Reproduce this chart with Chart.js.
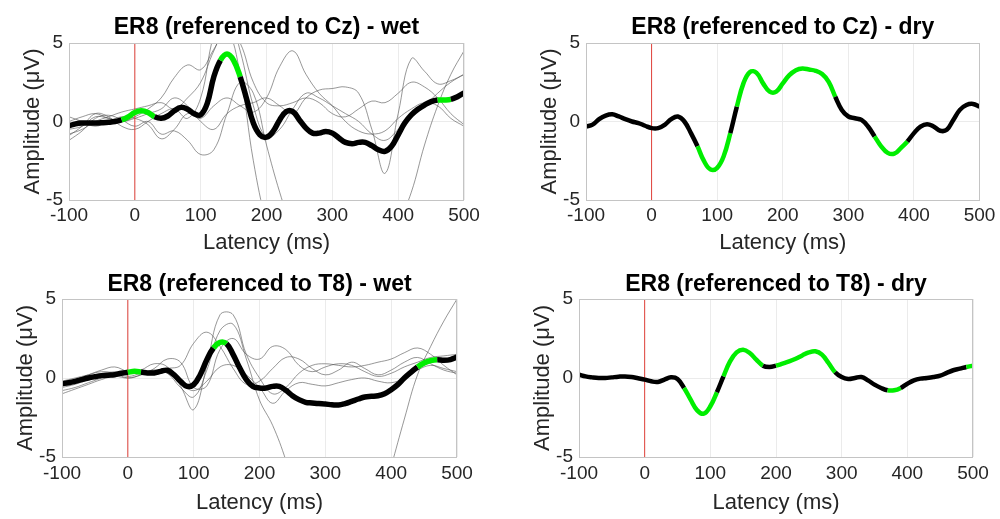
<!DOCTYPE html>
<html>
<head>
<meta charset="utf-8">
<script src="https://cdn.jsdelivr.net/npm/chart.js@4.4.1/dist/chart.umd.min.js"></script>
<style>
  html, body { margin: 0; padding: 0; background: #fff; }
  #fig { position: relative; width: 1000px; height: 519px; overflow: hidden; }
  .panel { position: absolute; }
</style>
</head>
<body>
<div id="fig">
  <div class="panel" style="left:0;top:0;width:500px;height:260px"><canvas id="czWet"></canvas></div>
  <div class="panel" style="left:500px;top:0;width:500px;height:260px"><canvas id="czDry"></canvas></div>
  <div class="panel" style="left:0;top:260px;width:500px;height:259px"><canvas id="t8Wet"></canvas></div>
  <div class="panel" style="left:500px;top:260px;width:500px;height:259px"><canvas id="t8Dry"></canvas></div>
</div>
<script>
// latency axis (ms)
const latency = [-100, -90, -80, -70, -60, -50, -40, -30, -20, -10, 0, 10, 20, 30, 40, 50, 60, 70, 80, 90,
  100, 110, 120, 130, 140, 150, 160, 170, 180, 190, 200, 210, 220, 230, 240, 250, 260, 270, 280, 290,
  300, 310, 320, 330, 340, 350, 360, 370, 380, 390, 400, 410, 420, 430, 440, 450, 460, 470, 480, 490, 500]
const latencyTrials = [-100, -80, -60, -40, -20, 0, 20, 40, 60, 80, 100, 120, 140, 160, 180, 200,
  220, 240, 260, 280, 300, 320, 340, 360, 380, 400, 420, 440, 460, 480, 500]
const xTicks = [-100, 0, 100, 200, 300, 400, 500]
const yTicks = [-5, 0, 5]

// grand averages (uV)
const czWetMean = [-0.27, -0.15, -0.1, -0.1, -0.1, -0.08, -0.05, 0.0, 0.1, 0.3, 0.57, 0.68, 0.57, 0.3, 0.2, 0.35, 0.68, 0.9, 0.78, 0.5,
  0.42, 1.15, 2.85, 3.9, 4.3, 3.9, 2.85, 1.4, -0.1, -0.85, -1.0, -0.63, 0.1, 0.63, 0.63, 0.1, -0.42, -0.74, -0.74, -0.63,
  -0.74, -1.05, -1.33, -1.41, -1.33, -1.33, -1.54, -1.8, -1.9, -1.58, -0.85, -0.1, 0.42, 0.78, 1.05, 1.27, 1.37, 1.37, 1.41, 1.58, 1.83]
const czDryMean = [-0.32, -0.2, 0.15, 0.38, 0.46, 0.32, 0.15, 0.0, -0.1, -0.27, -0.42, -0.42, -0.21, 0.15, 0.32, 0.0, -0.74, -1.58, -2.53, -3.06,
  -2.95, -2.2, -0.74, 0.95, 2.43, 3.16, 3.1, 2.43, 1.9, 1.9, 2.43, 2.95, 3.27, 3.38, 3.31, 3.23, 3.02, 2.53, 1.58, 0.74,
  0.32, 0.21, 0.1, -0.32, -0.95, -1.58, -2.0, -2.05, -1.69, -1.27, -0.74, -0.32, -0.17, -0.32, -0.59, -0.53, 0.1, 0.74, 1.05, 1.12, 0.95]
const t8WetMean = [-0.36, -0.3, -0.21, -0.1, 0.0, 0.08, 0.15, 0.18, 0.21, 0.3, 0.36, 0.42, 0.38, 0.32, 0.32, 0.42, 0.49, 0.21, -0.21, -0.53,
  -0.42, 0.21, 1.16, 1.9, 2.26, 2.17, 1.48, 0.63, -0.1, -0.53, -0.63, -0.63, -0.53, -0.53, -0.78, -1.12, -1.37, -1.54, -1.58, -1.62,
  -1.65, -1.69, -1.71, -1.62, -1.48, -1.33, -1.2, -1.16, -1.12, -0.99, -0.74, -0.42, 0.0, 0.36, 0.7, 0.95, 1.1, 1.16, 1.12, 1.16, 1.33]
const t8DryMean = [0.21, 0.1, 0.04, 0.0, 0.0, 0.04, 0.08, 0.1, 0.06, -0.02, -0.1, -0.21, -0.25, -0.1, 0.04, -0.06, -0.63, -1.37, -2.05, -2.26,
  -1.79, -0.9, 0.1, 1.05, 1.62, 1.79, 1.58, 1.16, 0.78, 0.7, 0.78, 0.91, 1.05, 1.22, 1.43, 1.62, 1.69, 1.48, 0.95, 0.36,
  0.06, -0.06, 0.0, 0.06, -0.15, -0.42, -0.63, -0.78, -0.78, -0.63, -0.36, -0.15, -0.04, 0.0, 0.06, 0.15, 0.32, 0.49, 0.59, 0.7, 0.78]

// significant latency windows (ms)
const czWetSig = [[-15, 25], [135, 155], [460, 477]]
const czDrySig = [[66, 118], [129, 284], [345, 391]]
const t8WetSig = [[0, 15], [133, 151], [440, 469]]
const t8DrySig = [[60, 112], [125, 180], [201, 287], [368, 387], [495, 500]]

// single-subject traces, wet electrodes (uV)
const czWetTrials = [
  [-0.5, -0.3, 0.3, 0.2, 0.0, 0.3, 0.8, 1.5, 2.8, 3.6, 3.3, 4.6, 5.8, 3.0, -2.5, -6.5, -9, -10, -10, -10, -10, -10, -10, -9, -8, -6.5, -4.5, -1.5, 1.0, 3.0, 4.5],
  [0.3, 0.0, -0.3, 0.0, 0.3, 0.2, -0.2, -1.1, -0.5, 0.5, 0.2, 1.0, 1.5, 1.0, 0.6, 1.5, 3.5, 4.5, 3.0, 1.8, 1.0, 0.0, -0.6, -0.8, -0.6, 0.2, 0.8, 1.2, 1.0, 0.2, -0.3],
  [0.0, 0.3, 0.5, 0.2, 0.0, 0.2, 0.5, 0.8, 1.5, 1.0, 0.0, -0.5, 0.5, 1.0, 1.2, 1.5, 1.0, 0.5, 1.5, 2.0, 2.1, 2.2, 1.8, -0.5, -3.3, 0.5, 4.0, 3.2, 2.4, 2.6, 3.0],
  [-1.2, -0.6, 0.2, 0.4, 0.1, -0.3, 0.0, -0.8, -0.6, -1.2, -2.1, -1.8, 0.5, 2.5, 1.8, -1.5, -4.5, -7, -9, -10, -10, -10, -10, -10, -10, -10, -10, -10, -10, -10, -10],
  [-0.8, -0.5, 0.0, 0.3, 0.6, 0.8, 1.0, 1.2, 0.8, 1.5, 2.5, 4.5, 6.0, 5.0, 2.5, 1.2, 1.0, 1.2, 1.5, 1.2, 0.5, 0.3, 0.8, 1.3, 1.2, 1.8, 2.5, 2.2, 1.5, 0.5, -0.2],
  [-0.9, -0.3, 0.5, 0.3, -0.3, -0.5, 0.0, 0.5, 0.8, 0.2, 1.5, 5.5, 7.0, 4.5, 1.0, -1.0, -0.5, 0.8, 1.8, 1.5, 1.0, 0.5, 0.0, -0.8, -1.2, -0.5, 0.3, 1.0, 1.8, 2.5, 3.0]
]
const t8WetTrials = [
  [-0.6, -0.4, -0.1, 0.2, 0.4, 0.3, 0.5, 0.9, 0.7, -0.5, -2.0, 0.8, 4.0, 4.0, 1.5, 0.0, -1.0, -0.6, 0.3, 0.8, 0.9, 0.8, 0.7, 0.8, 1.0, 1.2, 1.6, 1.9, 1.5, 0.8, 0.2],
  [-0.8, -0.6, -0.3, 0.0, 0.3, 0.1, 0.3, 0.5, 0.3, -0.6, -1.2, 0.5, 3.0, 3.4, 1.2, -1.4, -3.0, -5.2, -8, -9, -10, -10, -10, -10, -8.5, -5.6, -2.6, 0.2, 2.0, 3.6, 5.0],
  [-0.3, -0.1, 0.2, 0.5, 0.7, 0.4, 0.3, 0.4, 0.6, 0.8, 2.2, 2.9, 2.0, 0.6, -0.4, -0.2, 0.6, 1.3, 1.2, 0.6, 0.2, 0.5, 1.0, 0.6, 0.2, 0.5, 1.0, 1.3, 0.9, 0.5, 0.3],
  [-1.0, -0.7, -0.4, -0.1, 0.1, 0.0, 0.2, 0.5, 0.3, -0.3, -0.8, -0.2, 0.7, 0.8, 0.2, -0.6, -1.6, -0.8, -0.3, -0.4, -0.5, -0.3, -0.1, 0.0, -0.2, -0.3, 0.0, 0.5, 0.8, 0.6, 0.4],
  [-0.2, 0.0, 0.2, 0.4, 0.3, 0.0, 0.2, 0.6, 1.2, 1.0, -0.6, -0.5, 1.8, 2.5, 1.5, 1.2, 2.0, 1.8, 0.8, 0.4, 0.7, 0.9, 0.8, 0.4, 0.1, 0.3, 0.7, 1.0, 1.3, 1.4, 1.5]
]

const GREEN = "#00ee00"
const BLACK = "#000000"
const ONSET = "#e0403a"
const TRIAL = "rgba(80,80,80,0.75)"

Chart.defaults.font.family = "'Liberation Sans', Arial, sans-serif"
Chart.defaults.color = "#262626"

const boxPlugin = {
  id: "box",
  afterDatasetsDraw(chart) {
    const { ctx, chartArea: a } = chart
    ctx.save()
    ctx.strokeStyle = "#c4c4c4"
    ctx.lineWidth = 1
    ctx.strokeRect(Math.round(a.left) + 0.5, Math.round(a.top) + 0.5, Math.round(a.right - a.left) - 1, Math.round(a.bottom - a.top))
    ctx.restore()
  }
}

const toPoints = (xs, ys) => xs.map((x, i) => ({ x, y: ys[i] }))
const inRanges = (ranges, x) => ranges.some(([a, b]) => x >= a && x <= b)

function drawPanel(id, title, mean, sig, trials, lay) {
  const datasets = [{
    data: toPoints(latency, mean),
    borderColor: BLACK,
    borderWidth: lay.meanWidth,
    segment: {
      borderColor: c => inRanges(sig, (c.p0.parsed.x + c.p1.parsed.x) / 2) ? GREEN : BLACK
    }
  }, {
    data: [{ x: 0, y: -5 }, { x: 0, y: 5 }],
    borderColor: ONSET,
    borderWidth: 1,
    tension: 0
  }]
  trials.forEach(t => datasets.push({ data: toPoints(latencyTrials, t), borderColor: TRIAL, borderWidth: 0.8 }))

  new Chart(document.getElementById(id), {
    type: "line",
    data: { datasets },
    options: {
      responsive: true,
      maintainAspectRatio: false,
      animation: false,
      events: [],
      layout: { padding: { left: 0, top: 0, bottom: 0, right: lay.padRight } },
      elements: {
        point: { radius: 0 },
        line: { tension: 0.4, borderCapStyle: "butt", borderJoinStyle: "round" }
      },
      plugins: {
        legend: { display: false },
        tooltip: { enabled: false },
        title: {
          display: true,
          text: title,
          fullSize: false,
          color: "#000",
          font: { size: 23, weight: "bold", lineHeight: 1.2 },
          padding: { top: lay.titleTop, bottom: lay.titleBottom }
        }
      },
      scales: {
        x: {
          type: "linear",
          min: -100,
          max: 500,
          afterBuildTicks: s => { s.ticks = xTicks.map(v => ({ value: v })) },
          afterFit: s => { s.height = lay.xHeight },
          ticks: { autoSkip: false, maxRotation: 0, font: { size: 19 }, padding: lay.xTickPad },
          grid: { color: "#ebebeb", drawTicks: false },
          border: { display: false },
          title: { display: true, text: "Latency (ms)", font: { size: 22, lineHeight: 1.2 }, padding: { top: 0, bottom: lay.xTitlePad } }
        },
        y: {
          min: -5,
          max: 5,
          afterBuildTicks: s => { s.ticks = yTicks.map(v => ({ value: v })) },
          afterFit: s => { s.width = lay.yWidth },
          ticks: { font: { size: 19 }, padding: 6 },
          grid: { color: "#ebebeb", drawTicks: false },
          border: { display: false },
          title: { display: true, text: "Amplitude (μV)", font: { size: 22, lineHeight: 1.2 }, padding: { top: lay.yTitlePad, bottom: 0 } }
        }
      }
    },
    plugins: [boxPlugin]
  })
}

const topRow = { titleTop: 14.2, titleBottom: 1.2, xHeight: 60, xTickPad: 4.6, xTitlePad: 3.8 }
const bottomRow = { titleTop: 11.2, titleBottom: 0.2, xHeight: 62, xTickPad: 5.6, xTitlePad: 2.8 }

drawPanel("czWet", "ER8 (referenced to Cz) - wet", czWetMean, czWetSig, czWetTrials,
  { ...topRow, yWidth: 69, padRight: 36, yTitlePad: 20, meanWidth: 5.5 })
drawPanel("czDry", "ER8 (referenced to Cz) - dry", czDryMean, czDrySig, [],
  { ...topRow, yWidth: 86, padRight: 20, yTitlePad: 37, meanWidth: 4.5 })
drawPanel("t8Wet", "ER8 (referenced to T8) - wet", t8WetMean, t8WetSig, t8WetTrials,
  { ...bottomRow, yWidth: 62, padRight: 43, yTitlePad: 13, meanWidth: 5.5 })
drawPanel("t8Dry", "ER8 (referenced to T8) - dry", t8DryMean, t8DrySig, [],
  { ...bottomRow, yWidth: 79, padRight: 27, yTitlePad: 30, meanWidth: 4.5 })
</script>
</body>
</html>
